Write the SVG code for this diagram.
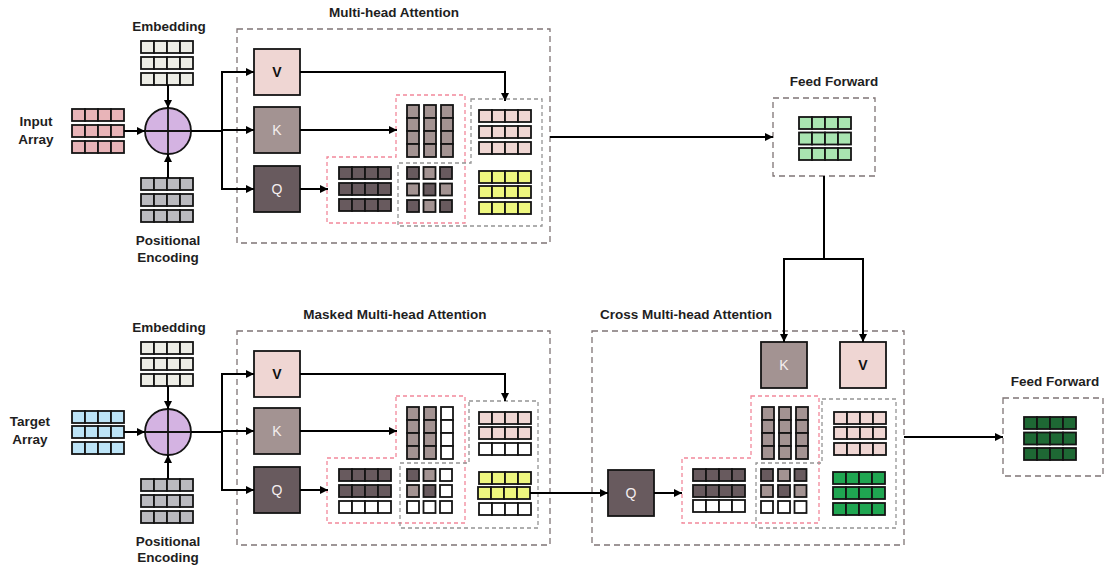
<svg xmlns="http://www.w3.org/2000/svg" xmlns:xlink="http://www.w3.org/1999/xlink" width="1105" height="566" viewBox="0 0 1105 566">
<style>
.c{stroke:#141414;stroke-width:1.8}
.box{fill:none;stroke:#7f7475;stroke-width:1.3;stroke-dasharray:6 4}
.pk{fill:none;stroke:#F2889A;stroke-width:1.3;stroke-dasharray:4 3}
.gy{fill:none;stroke:#949494;stroke-width:1.3;stroke-dasharray:4 3}
.ln{fill:none;stroke:#000;stroke-width:2}
.t{font-family:"Liberation Sans",Arial,sans-serif;font-weight:bold;font-size:13.5px;fill:#1e1e1e;text-anchor:middle}
.bl{font-family:"Liberation Sans",Arial,sans-serif;font-size:14px;text-anchor:middle}
</style>
<defs>
<g id="r4"><rect class="c" x="0" y="0" width="13" height="12"/><rect class="c" x="13" y="0" width="13" height="12"/><rect class="c" x="26" y="0" width="13" height="12"/><rect class="c" x="39" y="0" width="13" height="12"/></g>
<g id="c4"><rect class="c" x="0" y="0" width="12" height="13"/><rect class="c" x="0" y="13" width="12" height="13"/><rect class="c" x="0" y="26" width="12" height="13"/><rect class="c" x="0" y="39" width="12" height="13"/></g>
<marker id="ah" markerWidth="10" markerHeight="10" refX="8" refY="4" orient="auto" markerUnits="userSpaceOnUse"><path d="M0,0 L8,4 L0,8 Z" fill="#000"/></marker>
</defs>

<!-- ============ TOP (encoder) ============ -->
<g id="input-array">
<text class="t" x="36" y="126">Input</text>
<text class="t" x="36" y="144">Array</text>
<use xlink:href="#r4" x="72" y="109" fill="#E8B4B8"/>
<use xlink:href="#r4" x="72" y="125" fill="#E8B4B8"/>
<use xlink:href="#r4" x="72" y="141" fill="#E8B4B8"/>
</g>
<g id="embedding-top">
<text class="t" x="169" y="31">Embedding</text>
<use xlink:href="#r4" x="141" y="41" fill="#EDEDE6"/>
<use xlink:href="#r4" x="141" y="57" fill="#EDEDE6"/>
<use xlink:href="#r4" x="141" y="73" fill="#EDEDE6"/>
</g>
<g id="posenc-top">
<use xlink:href="#r4" x="141" y="178" fill="#BABABF"/>
<use xlink:href="#r4" x="141" y="194" fill="#BABABF"/>
<use xlink:href="#r4" x="141" y="210" fill="#BABABF"/>
<text class="t" x="168" y="245">Positional</text>
<text class="t" x="168" y="262">Encoding</text>
</g>
<g id="add-top">
<circle cx="168" cy="131" r="23" fill="#D4B3E2" class="c"/>
<path d="M145,131 H191 M168,108 V154" class="c" fill="none"/>
</g>

<g id="mha">
<rect class="box" x="237" y="29" width="313" height="214"/>
<text class="t" x="394" y="17">Multi-head Attention</text>
</g>
<g id="mha-v"><rect class="c" x="254" y="49" width="46" height="46" fill="#EFD6D3"/><text class="bl" x="277" y="77" font-weight="bold" fill="#111">V</text></g>
<g id="mha-k"><rect class="c" x="254" y="107" width="46" height="46" fill="#A39392"/><text class="bl" x="277" y="135" fill="#f4eeee">K</text></g>
<g id="mha-q"><rect class="c" x="254" y="166" width="46" height="46" fill="#685A5E"/><text class="bl" x="277" y="194" fill="#f4eeee">Q</text></g>
<g id="mha-qk">
<path class="pk" d="M396,95 H465 V223 H327 V157 H396 Z"/>
<use xlink:href="#c4" x="407" y="105" fill="#A39392"/>
<use xlink:href="#c4" x="424" y="105" fill="#A39392"/>
<use xlink:href="#c4" x="441" y="105" fill="#A39392"/>
<use xlink:href="#r4" x="339" y="167" fill="#685A5E"/>
<use xlink:href="#r4" x="339" y="183" fill="#685A5E"/>
<use xlink:href="#r4" x="339" y="199" fill="#685A5E"/>
</g>
<g id="mha-sv">
<path class="gy" d="M471,99 H542 V226 H398 V163 H471 Z"/>
<rect class="c" x="407" y="167" width="12" height="12" fill="#685A5E"/><rect class="c" x="423.5" y="167" width="12" height="12" fill="#A39392"/><rect class="c" x="440" y="167" width="12" height="12" fill="#685A5E"/>
<rect class="c" x="407" y="183.5" width="12" height="12" fill="#A39392"/><rect class="c" x="423.5" y="183.5" width="12" height="12" fill="#685A5E"/><rect class="c" x="440" y="183.5" width="12" height="12" fill="#A39392"/>
<rect class="c" x="407" y="200" width="12" height="12" fill="#685A5E"/><rect class="c" x="423.5" y="200" width="12" height="12" fill="#A39392"/><rect class="c" x="440" y="200" width="12" height="12" fill="#685A5E"/>
<use xlink:href="#r4" x="479" y="110" fill="#EFD6D3"/>
<use xlink:href="#r4" x="479" y="126" fill="#EFD6D3"/>
<use xlink:href="#r4" x="479" y="142" fill="#EFD6D3"/>
<use xlink:href="#r4" x="479" y="171" fill="#EEF77F"/>
<use xlink:href="#r4" x="479" y="186" fill="#EEF77F"/>
<use xlink:href="#r4" x="479" y="202" fill="#EEF77F"/>
</g>

<g id="ff-top">
<text class="t" x="834" y="86">Feed Forward</text>
<rect class="box" x="773" y="98" width="102" height="78"/>
<use xlink:href="#r4" x="799" y="117" fill="#A9E5B1"/>
<use xlink:href="#r4" x="799" y="132.5" fill="#A9E5B1"/>
<use xlink:href="#r4" x="799" y="148" fill="#A9E5B1"/>
</g>

<!-- ============ BOTTOM (decoder) ============ -->
<g id="target-array">
<text class="t" x="30" y="426">Target</text>
<text class="t" x="30" y="444">Array</text>
<use xlink:href="#r4" x="72" y="411" fill="#BDE4F7"/>
<use xlink:href="#r4" x="72" y="426" fill="#BDE4F7"/>
<use xlink:href="#r4" x="72" y="442" fill="#BDE4F7"/>
</g>
<g id="embedding-bottom">
<text class="t" x="169" y="332">Embedding</text>
<use xlink:href="#r4" x="141" y="342" fill="#EDEDE6"/>
<use xlink:href="#r4" x="141" y="358" fill="#EDEDE6"/>
<use xlink:href="#r4" x="141" y="374" fill="#EDEDE6"/>
</g>
<g id="posenc-bottom">
<use xlink:href="#r4" x="141" y="479" fill="#BABABF"/>
<use xlink:href="#r4" x="141" y="495" fill="#BABABF"/>
<use xlink:href="#r4" x="141" y="511" fill="#BABABF"/>
<text class="t" x="168" y="546">Positional</text>
<text class="t" x="168" y="562">Encoding</text>
</g>
<g id="add-bottom">
<circle cx="168" cy="432" r="23" fill="#D4B3E2" class="c"/>
<path d="M145,432 H191 M168,409 V455" class="c" fill="none"/>
</g>

<g id="masked-mha">
<rect class="box" x="237" y="331" width="313" height="214"/>
<text class="t" x="395" y="319">Masked Multi-head Attention</text>
</g>
<g id="mmha-v"><rect class="c" x="254" y="351" width="46" height="46" fill="#EFD6D3"/><text class="bl" x="277" y="379" font-weight="bold" fill="#111">V</text></g>
<g id="mmha-k"><rect class="c" x="254" y="408" width="46" height="46" fill="#A39392"/><text class="bl" x="277" y="436" fill="#f4eeee">K</text></g>
<g id="mmha-q"><rect class="c" x="254" y="467" width="46" height="46" fill="#685A5E"/><text class="bl" x="277" y="495" fill="#f4eeee">Q</text></g>
<g id="mmha-qk">
<path class="pk" d="M396,396 H465 V523 H327 V458 H396 Z"/>
<use xlink:href="#c4" x="407" y="407" fill="#A39392"/>
<use xlink:href="#c4" x="424" y="407" fill="#A39392"/>
<use xlink:href="#c4" x="441" y="407" fill="#fff"/>
<use xlink:href="#r4" x="339" y="469" fill="#685A5E"/>
<use xlink:href="#r4" x="339" y="485" fill="#685A5E"/>
<use xlink:href="#r4" x="339" y="501" fill="#fff"/>
</g>
<g id="mmha-sv">
<path class="gy" d="M469,401 H538 V528 H400 V463 H469 Z"/>
<rect class="c" x="407" y="469" width="12" height="12" fill="#685A5E"/><rect class="c" x="423.5" y="469" width="12" height="12" fill="#A39392"/><rect class="c" x="440" y="469" width="12" height="12" fill="#fff"/>
<rect class="c" x="407" y="485" width="12" height="12" fill="#A39392"/><rect class="c" x="423.5" y="485" width="12" height="12" fill="#685A5E"/><rect class="c" x="440" y="485" width="12" height="12" fill="#fff"/>
<rect class="c" x="407" y="501" width="12" height="12" fill="#fff"/><rect class="c" x="423.5" y="501" width="12" height="12" fill="#fff"/><rect class="c" x="440" y="501" width="12" height="12" fill="#fff"/>
<use xlink:href="#r4" x="479" y="412" fill="#EFD6D3"/>
<use xlink:href="#r4" x="479" y="427" fill="#EFD6D3"/>
<use xlink:href="#r4" x="479" y="443" fill="#fff"/>
<use xlink:href="#r4" x="479" y="472" fill="#EEF77F"/>
<use xlink:href="#r4" x="478" y="487" fill="#EEF77F"/>
<use xlink:href="#r4" x="479" y="503" fill="#fff"/>
</g>

<g id="cross-mha">
<rect class="box" x="592" y="331" width="312" height="214"/>
<text class="t" x="686" y="319">Cross Multi-head Attention</text>
</g>
<g id="cmha-k"><rect class="c" x="761" y="342" width="46" height="46" fill="#A39392"/><text class="bl" x="784" y="370" fill="#f4eeee">K</text></g>
<g id="cmha-v"><rect class="c" x="840" y="342" width="46" height="46" fill="#EFD6D3"/><text class="bl" x="863" y="370" font-weight="bold" fill="#111">V</text></g>
<g id="cmha-q"><rect class="c" x="608" y="470" width="46" height="46" fill="#685A5E"/><text class="bl" x="631" y="498" fill="#f4eeee">Q</text></g>
<g id="cmha-qk">
<path class="pk" d="M751,396 H819 V523 H682 V458 H751 Z"/>
<use xlink:href="#c4" x="762" y="407" fill="#A39392"/>
<use xlink:href="#c4" x="779" y="407" fill="#A39392"/>
<use xlink:href="#c4" x="796" y="407" fill="#A39392"/>
<use xlink:href="#r4" x="693" y="469" fill="#685A5E"/>
<use xlink:href="#r4" x="693" y="485" fill="#685A5E"/>
<use xlink:href="#r4" x="693" y="500" fill="#fff"/>
</g>
<g id="cmha-sv">
<path class="gy" d="M822,399 H896 V528 H756 V463 H822 Z"/>
<rect class="c" x="761" y="469" width="12" height="12" fill="#685A5E"/><rect class="c" x="778" y="469" width="12" height="12" fill="#A39392"/><rect class="c" x="794.5" y="469" width="12" height="12" fill="#685A5E"/>
<rect class="c" x="761" y="485" width="12" height="12" fill="#A39392"/><rect class="c" x="778" y="485" width="12" height="12" fill="#685A5E"/><rect class="c" x="794.5" y="485" width="12" height="12" fill="#A39392"/>
<rect class="c" x="761" y="501" width="12" height="12" fill="#fff"/><rect class="c" x="778" y="501" width="12" height="12" fill="#fff"/><rect class="c" x="794.5" y="501" width="12" height="12" fill="#fff"/>
<use xlink:href="#r4" x="834" y="412" fill="#EFD6D3"/>
<use xlink:href="#r4" x="834" y="427" fill="#EFD6D3"/>
<use xlink:href="#r4" x="834" y="443" fill="#EFD6D3"/>
<use xlink:href="#r4" x="833" y="472" fill="#1FA651"/>
<use xlink:href="#r4" x="833" y="487" fill="#1FA651"/>
<use xlink:href="#r4" x="833" y="503" fill="#1FA651"/>
</g>

<g id="ff-bottom">
<text class="t" x="1055" y="386">Feed Forward</text>
<rect class="box" x="1003" y="398" width="100" height="78"/>
<use xlink:href="#r4" x="1024" y="417" fill="#1E6834"/>
<use xlink:href="#r4" x="1024" y="432.5" fill="#1E6834"/>
<use xlink:href="#r4" x="1024" y="448" fill="#1E6834"/>
</g>

<!-- ============ CONNECTORS ============ -->
<g id="connectors" class="ln">
<path class="ln" d="M124,131 H145" marker-end="url(#ah)"/>
<path class="ln" d="M168,85 V108" marker-end="url(#ah)"/>
<path class="ln" d="M168,178 V154" marker-end="url(#ah)"/>
<path class="ln" d="M191,131 H222 M222,71 V190"/>
<path class="ln" d="M221,72 H254" marker-end="url(#ah)"/>
<path class="ln" d="M222,130 H254" marker-end="url(#ah)"/>
<path class="ln" d="M221,189 H254" marker-end="url(#ah)"/>
<path class="ln" d="M300,72 H505 V101" marker-end="url(#ah)"/>
<path class="ln" d="M300,130 H397" marker-end="url(#ah)"/>
<path class="ln" d="M300,189 H328" marker-end="url(#ah)"/>
<path class="ln" d="M550,137 H773" marker-end="url(#ah)"/>
<path class="ln" d="M824,176 V259 M783,259 H864"/>
<path class="ln" d="M784,258 V342" marker-end="url(#ah)"/>
<path class="ln" d="M863,258 V342" marker-end="url(#ah)"/>

<path class="ln" d="M124,432 H145" marker-end="url(#ah)"/>
<path class="ln" d="M168,386 V409" marker-end="url(#ah)"/>
<path class="ln" d="M168,479 V455" marker-end="url(#ah)"/>
<path class="ln" d="M191,432 H222 M222,373 V491"/>
<path class="ln" d="M221,374 H254" marker-end="url(#ah)"/>
<path class="ln" d="M222,431 H254" marker-end="url(#ah)"/>
<path class="ln" d="M221,490 H254" marker-end="url(#ah)"/>
<path class="ln" d="M300,374 H505 V401" marker-end="url(#ah)"/>
<path class="ln" d="M300,431 H397" marker-end="url(#ah)"/>
<path class="ln" d="M300,490 H328" marker-end="url(#ah)"/>
<path class="ln" d="M530,493 H608" marker-end="url(#ah)"/>
<path class="ln" d="M654,493 H682" marker-end="url(#ah)"/>
<path class="ln" d="M904,437 H1003" marker-end="url(#ah)"/>
</g>
</svg>
